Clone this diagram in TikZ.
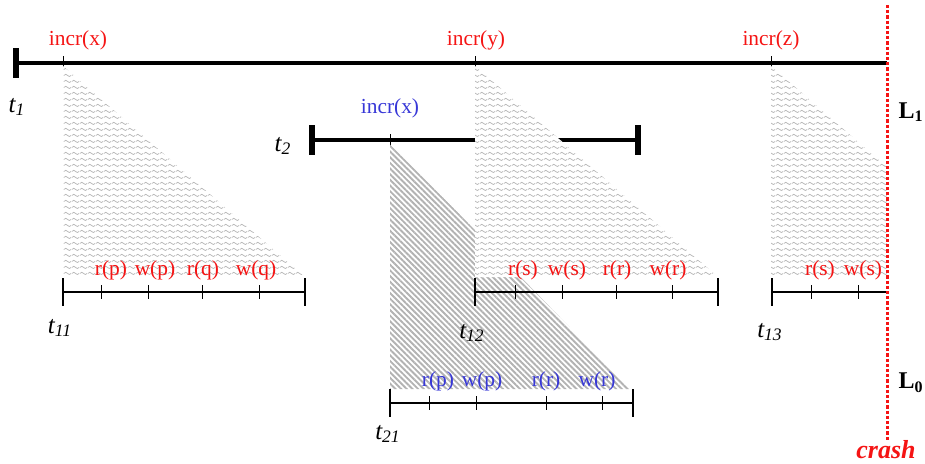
\documentclass[tikz,border=0pt]{standalone}
\usepackage{fontspec}
\setmainfont{Liberation Serif}
\usetikzlibrary{patterns.meta}

\definecolor{opred}{RGB}{245,20,20}
\definecolor{opblue}{RGB}{55,55,215}

\tikzdeclarepattern{
  name=wavy,
  type=uncolored,
  bounding box={(0pt,0pt) and (4pt,2.75pt)},
  tile size={(4pt,2.75pt)},
  code={
    \draw[line width=0.4pt] (0pt,1.4pt) sin (1pt,2pt) cos (2pt,1.4pt)
      sin (3pt,0.8pt) cos (4pt,1.4pt);
  }
}

\begin{document}
\begin{tikzpicture}[
  x=0.5pt, y=-0.5pt,
  font=\fontsize{10.7}{12}\selectfont,
  timeline/.style={line width=2pt},
  endbar/.style={line width=3pt},
  incrtick/.style={line width=0.5pt},
  opscale/.style={line width=0.55pt},
  scalebar/.style={line width=1.1pt},
  optick/.style={line width=0.5pt},
  wavyfill/.style={
    preaction={fill=white},
    pattern=wavy,
    pattern color=black!28
  },
  hatchfill/.style={
    pattern={Lines[angle=-45,distance=2pt,line width=0.95pt]},
    pattern color=black!30
  },
  tlabel/.style={font=\fontsize{12.5}{14}\selectfont},
  oplabel/.style={inner sep=0pt},
  level/.style={font=\fontsize{12}{14}\selectfont\bfseries},
  crashline/.style={draw=opred, line width=1.5pt, dash pattern=on 1.6pt off 1pt}
]
  \useasboundingbox (0,0) rectangle (925,463);

  % level L1: transaction t1
  \coordinate (t1s) at (16,63);
  \coordinate (t1e) at (887,63);
  \draw[timeline] (t1s) -- (t1e);
  \draw[endbar] ([yshift=7.5pt]t1s) -- ([yshift=-7.5pt]t1s);
  \node[tlabel] (t1) at (17,107) {\textit{t\textsubscript{1}}};
  \foreach \x in {63,475,771}
    \draw[incrtick] (\x,56) -- (\x,69);
  \node[text=opred] (incx) at (78,40) {incr(x)};
  \node[text=opred] (incy) at (476,40) {incr(y)};
  \node[text=opred] (incz) at (771,40) {incr(z)};

  % transaction t2
  \coordinate (t2s) at (312,140);
  \coordinate (t2e) at (638,140);
  \draw[timeline] (t2s) -- (t2e);
  \draw[endbar] ([yshift=7.5pt]t2s) -- ([yshift=-7.5pt]t2s);
  \draw[endbar] ([yshift=7.5pt]t2e) -- ([yshift=-7.5pt]t2e);
  \node[tlabel] (t2) at (283,146) {\textit{t\textsubscript{2}}};
  \draw[incrtick] (390,134) -- (390,147);
  \node[text=opblue] (incx2) at (390,108) {incr(x)};

  % subtransaction t21 (level L0)
  \path[hatchfill] (390,143) -- (630,389) -- (390,389) -- cycle;

  % subtransactions of t1
  \path[wavyfill] (63,66) -- (305,277) -- (63,277) -- cycle;
  \path[wavyfill] (475,66) -- (718,277) -- (475,277) -- cycle;
  \path[wavyfill] (771,66) -- (887,167) -- (887,277) -- (771,277) -- cycle;

  % t11
  \coordinate (s11a) at (63,292);
  \coordinate (s11b) at (305,292);
  \draw[opscale] (s11a) -- (s11b);
  \draw[scalebar] ([yshift=7pt]s11a) -- ([yshift=-7pt]s11a);
  \draw[scalebar] ([yshift=7pt]s11b) -- ([yshift=-7pt]s11b);
  \foreach \x in {101,148,202,259}
    \draw[optick] (\x,285) -- (\x,299);
  \foreach \x/\lab [count=\i] in {111/r(p),155/w(p),203/r(q),256/w(q)}
    \node[oplabel, text=opred] (a11\i) at (\x,270) {\lab};
  \node[tlabel] (t11) at (60,328) {\textit{t\textsubscript{11}}};

  % t12
  \coordinate (s12a) at (475,292);
  \coordinate (s12b) at (718,292);
  \draw[opscale] (s12a) -- (s12b);
  \draw[scalebar] ([yshift=7pt]s12a) -- ([yshift=-7pt]s12a);
  \draw[scalebar] ([yshift=7pt]s12b) -- ([yshift=-7pt]s12b);
  \foreach \x in {515,562,616,672}
    \draw[optick] (\x,285) -- (\x,299);
  \foreach \x/\lab [count=\i] in {523/r(s),567/w(s),617/r(r),668/w(r)}
    \node[oplabel, text=opred] (a12\i) at (\x,270) {\lab};
  \node[tlabel] (t12) at (472,333) {\textit{t\textsubscript{12}}};

  % t13
  \coordinate (s13a) at (772,292);
  \coordinate (s13b) at (887,292);
  \draw[opscale] (s13a) -- (s13b);
  \draw[scalebar] ([yshift=7pt]s13a) -- ([yshift=-7pt]s13a);
  \foreach \x in {811,858}
    \draw[optick] (\x,285) -- (\x,299);
  \foreach \x/\lab [count=\i] in {820/r(s),863/w(s)}
    \node[oplabel, text=opred] (a13\i) at (\x,270) {\lab};
  \node[tlabel] (t13) at (770,332) {\textit{t\textsubscript{13}}};

  % t21
  \coordinate (s21a) at (390,403);
  \coordinate (s21b) at (633,403);
  \draw[opscale] (s21a) -- (s21b);
  \draw[scalebar] ([yshift=7pt]s21a) -- ([yshift=-7pt]s21a);
  \draw[scalebar] ([yshift=7pt]s21b) -- ([yshift=-7pt]s21b);
  \foreach \x in {429,476,546,602}
    \draw[optick] (\x,396) -- (\x,410);
  \foreach \x/\lab [count=\i] in {438/r(p),482/w(p),546/r(r),597/w(r)}
    \node[oplabel, text=opblue] (a21\i) at (\x,381) {\lab};
  \node[tlabel] (t21) at (388,434) {\textit{t\textsubscript{21}}};

  % levels and crash
  \node[level] (L1) at (911,112) {L\textsubscript{1}};
  \node[level] (L0) at (911,383) {L\textsubscript{0}};
  \coordinate (crtop) at (887,5);
  \coordinate (crbot) at (887,440);
  \draw[crashline] (crtop) -- (crbot);
  \node[text=opred, inner sep=0pt, font=\fontsize{13}{15}\selectfont\bfseries\itshape] (crash) at (886,450) {crash};
\end{tikzpicture}
\end{document}
